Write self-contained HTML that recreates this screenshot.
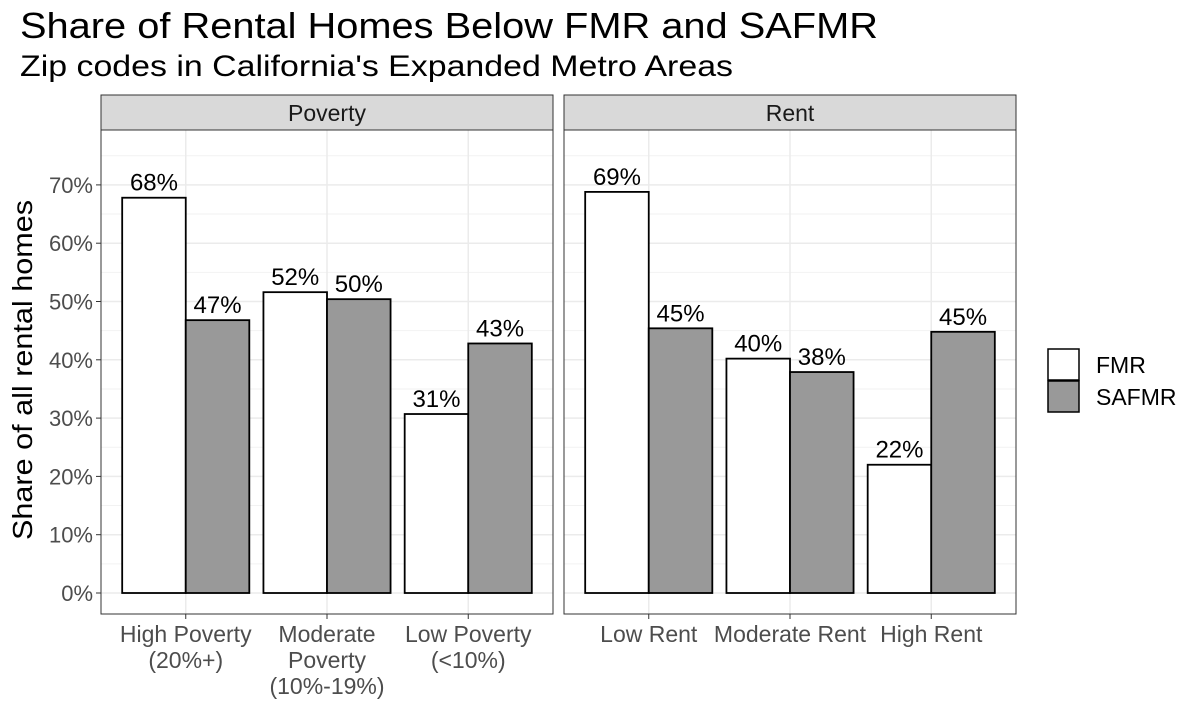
<!DOCTYPE html>
<html><head><meta charset="utf-8"><style>
body{margin:0;background:#fff;}
svg{display:block;font-family:"Liberation Sans",sans-serif;}
</style></head><body>
<svg width="1200" height="712" viewBox="0 0 1200 712">
<text x="20" y="38" font-size="36" textLength="858" lengthAdjust="spacingAndGlyphs" fill="#000">Share of Rental Homes Below FMR and SAFMR</text>
<text x="20" y="76" font-size="30" textLength="713" lengthAdjust="spacingAndGlyphs" fill="#000">Zip codes in California's Expanded Metro Areas</text>
<text transform="translate(32,370) rotate(-90)" text-anchor="middle" font-size="28" textLength="340" lengthAdjust="spacingAndGlyphs" fill="#000">Share of all rental homes</text>
<g id="plot"></g>
<g>
<rect x="1048" y="349" width="31" height="31" fill="#fff" stroke="#000" stroke-width="1.5"/>
<text x="1096" y="373" font-size="23">FMR</text>
<rect x="1048" y="381" width="31" height="31" fill="#999" stroke="#000" stroke-width="1.5"/>
<text x="1096" y="405" font-size="23">SAFMR</text>
</g>
</svg>
<script>
const panels = ["Poverty","Rent"];
const povertyCats = [["High Poverty","(20%+)"],["Moderate","Poverty","(10%-19%)"],["Low Poverty","(<10%)"]];
const rentCats = [["Low Rent"],["Moderate Rent"],["High Rent"]];
const povertyFMR = [67.8,51.6,30.7];
const povertySAFMR = [46.8,50.4,42.8];
const rentFMR = [68.8,40.2,22.0];
const rentSAFMR = [45.4,37.9,44.8];
const yTicks = [0,10,20,30,40,50,60,70];

const NS="http://www.w3.org/2000/svg";
const g=document.getElementById('plot');
const y0=593, pxPer=5.83;
const y=v=>y0-v*pxPer;
function mk(t,a,p){const e=document.createElementNS(NS,t);for(const k in a)e.setAttribute(k,a[k]);(p||g).appendChild(e);return e;}
const panelX=[[101,553],[564,1016]];
const data=[[povertyCats,povertyFMR,povertySAFMR],[rentCats,rentFMR,rentSAFMR]];
panelX.forEach((px,pi)=>{
  const [x0,x1]=px, w=x1-x0;
  const unit=w/3.2;
  const xc=i=>x0+unit*(0.6+i);
  const bw=unit*0.45;
  const s=mk('rect',{x:x0,y:95,width:w,height:35,fill:'#d9d9d9',stroke:'#333','stroke-width':1});
  
  
  const st=mk('text',{x:(x0+x1)/2,y:121,'text-anchor':'middle','font-size':23,fill:'#1a1a1a'});st.textContent=panels[pi];
  
  
  for(let v=5;v<=75;v+=10){if(y(v)>130)mk('line',{x1:x0,x2:x1,y1:y(v),y2:y(v),stroke:'#f2f2f2','stroke-width':1});}
  yTicks.forEach(v=>mk('line',{x1:x0,x2:x1,y1:y(v),y2:y(v),stroke:'#ebebeb','stroke-width':1.5}));
  for(let i=0;i<3;i++)mk('line',{x1:xc(i),x2:xc(i),y1:130,y2:614,stroke:'#ebebeb','stroke-width':1.5});
  const [cats,f,sf]=data[pi];
  for(let i=0;i<3;i++){
    [[f[i],'#fff',xc(i)-bw,'fmr'],[sf[i],'#999',xc(i),'safmr']].forEach(([v,c,bx,nm])=>{
      const r=mk('rect',{x:bx,y:y(v),width:bw,height:v*pxPer,fill:c,stroke:'#000','stroke-width':1.8});
      
      
      const t=mk('text',{x:bx+bw/2,y:y(v)-7,'text-anchor':'middle','font-size':24,fill:'#000'});t.textContent=Math.round(v)+'%';
      
      
    });
    mk('line',{x1:xc(i),x2:xc(i),y1:614,y2:619,stroke:'#333','stroke-width':1});
    cats[i].forEach((ln,li)=>{
      const t=mk('text',{x:xc(i),y:642+li*26,'text-anchor':'middle','font-size':23,fill:'#4d4d4d'});t.textContent=ln;
      
      
    });
  }
  const b=mk('rect',{x:x0,y:130,width:w,height:484,fill:'none',stroke:'#333','stroke-width':1});
  
  
});
yTicks.forEach(v=>{
  mk('line',{x1:96,x2:101,y1:y(v),y2:y(v),stroke:'#333','stroke-width':1});
  const t=mk('text',{x:93,y:y(v)+8,'text-anchor':'end','font-size':22,fill:'#4d4d4d'});t.textContent=v+'%';
  
  
});
</script>
</body></html>
